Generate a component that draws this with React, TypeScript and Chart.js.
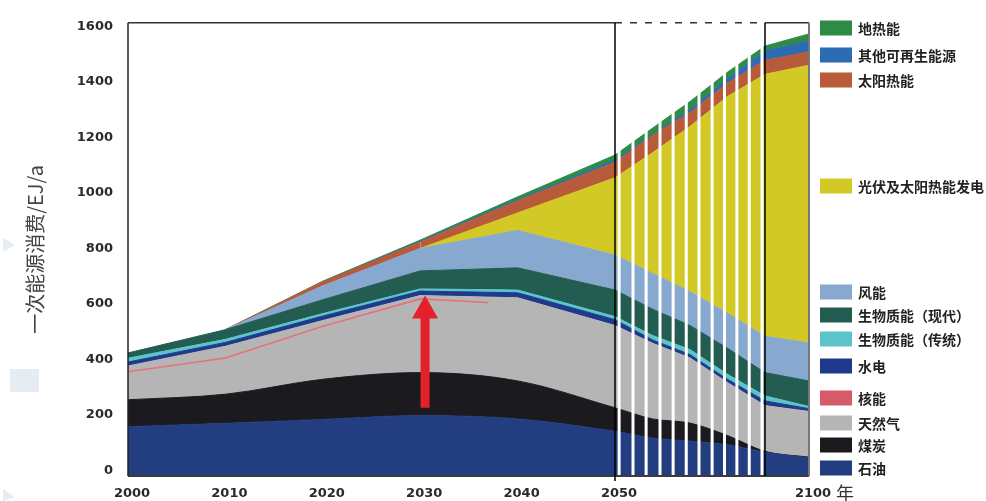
import React, { useEffect, useRef } from 'react';
import { Chart, registerables, LinearScale } from 'chart.js';

Chart.register(...registerables);

// ---------- data ----------
const years = [2000, 2010, 2020, 2030, 2040, 2050, 2060, 2070, 2080, 2090, 2100];
const oil = [157, 169, 183, 197, 185, 140, 116, 105, 92, 65, 45];
const coal = [97, 105, 145, 155, 137, 85, 69, 65, 33, 3, 2];
const gas = [122, 173, 212, 278, 300, 297, 273, 235, 191, 165, 165];
const hydro = [14, 14, 16, 16, 18, 21, 12, 12, 12, 17, 10];
const bioTraditional = [14, 11, 9, 8, 10, 11, 16, 18, 18, 18, 8];
const bioModern = [19, 35, 50, 65, 80, 96, 95, 87, 94, 84, 92];
const wind = [0, 0, 50, 81, 135, 126, 129, 122, 126, 131, 137];
const pvSolarPower = [0, 0, 0, 0, 63, 279, 435, 596, 782, 945, 1002];
const solarThermal = [0, 0, 15, 23, 44, 56, 62, 50, 49, 51, 48];
const otherRenewables = [0, 0, 0, 3, 4, 7, 3, 10, 15, 33, 39];
const geothermal = [0, 0, 2, 4, 10, 19, 24, 30, 24, 18, 26];

const nuclearYears = [2000, 2010, 2020, 2030, 2037];
const nuclearLine = [355, 405, 519, 618, 605];

const xTickYears = [2000, 2010, 2020, 2030, 2040, 2050, 2100];
const yTicks = [0, 200, 400, 600, 800, 1000, 1200, 1400, 1600];
const stripeYears = [2051.1, 2054.8, 2058.3, 2062, 2065.5, 2069, 2072.4, 2075.9, 2079.2, 2082.5, 2085.8, 2089.2];
const arrowYear = 2030.5;
const arrowFrom = 225;
const arrowTo = 630;

const legendOrder = ['地热能', '其他可再生能源', '太阳热能', '光伏及太阳热能发电', '风能', '生物质能（现代）', '生物质能（传统）', '水电', '核能', '天然气', '煤炭', '石油'];

// ---------- layout / style ----------
const legendY = [28, 55, 80, 186, 292, 315, 339, 366, 398, 423, 445, 468];
const xBreakYears = [2000, 2050, 2090, 2100];
const xBreakFracs = [0, 487 / 681, 637 / 681, 1];

function yearToFrac(v: number) {
  for (let i = 0; i < xBreakYears.length - 1; i++) {
    const a = xBreakYears[i], b = xBreakYears[i + 1];
    if (v <= b || i === xBreakYears.length - 2) {
      return xBreakFracs[i] + ((v - a) / (b - a)) * (xBreakFracs[i + 1] - xBreakFracs[i]);
    }
  }
  return 1;
}
function fracToYear(f: number) {
  for (let i = 0; i < xBreakFracs.length - 1; i++) {
    const a = xBreakFracs[i], b = xBreakFracs[i + 1];
    if (f <= b || i === xBreakFracs.length - 2) {
      return xBreakYears[i] + ((f - a) / (b - a)) * (xBreakYears[i + 1] - xBreakYears[i]);
    }
  }
  return 2100;
}

class PiecewiseScale extends LinearScale {
  getPixelForValue(value: any) {
    if (value === null || value === undefined || isNaN(value)) return NaN;
    return this.getPixelForDecimal(yearToFrac(+value));
  }
  getValueForPixel(pixel: number) {
    return fracToYear(this.getDecimalForPixel(pixel));
  }
}
(PiecewiseScale as any).id = 'piecewise';
(PiecewiseScale as any).defaults = (LinearScale as any).defaults;
Chart.register(PiecewiseScale as any);

const series = [
  { label: '石油', data: oil, color: '#223d80', smooth: true },
  { label: '煤炭', data: coal, color: '#1b1a1f', smooth: true },
  { label: '天然气', data: gas, color: '#b4b5b4', smooth: false },
  { label: '水电', data: hydro, color: '#1f3a8c', smooth: false },
  { label: '生物质能（传统）', data: bioTraditional, color: '#5cc4c9', smooth: false },
  { label: '生物质能（现代）', data: bioModern, color: '#235c51', smooth: false },
  { label: '风能', data: wind, color: '#87a9d0', smooth: false },
  { label: '光伏及太阳热能发电', data: pvSolarPower, color: '#d3c926', smooth: false },
  { label: '太阳热能', data: solarThermal, color: '#b85b3b', smooth: false },
  { label: '其他可再生能源', data: otherRenewables, color: '#2b6cb4', smooth: false },
  { label: '地热能', data: geothermal, color: '#2f8c46', smooth: false },
];
const nuclearColor = '#d65a6a';

const tickFont = { family: '"DejaVu Sans", Verdana, sans-serif', size: 13, weight: 'bold' as any };

const overlayPlugin = {
  id: 'overlay',
  beforeDraw(chart: any) {
    const ctx = chart.ctx;
    ctx.save();
    ctx.fillStyle = '#ffffff';
    ctx.fillRect(0, 0, chart.width, chart.height);
    ctx.fillStyle = '#e5ecf4';
    ctx.fillRect(10, 369, 29, 23);
    ctx.beginPath();
    ctx.moveTo(3, 238); ctx.lineTo(15, 245); ctx.lineTo(3, 252); ctx.closePath();
    ctx.fill();
    ctx.beginPath();
    ctx.moveTo(3, 489); ctx.lineTo(15, 497); ctx.lineTo(3, 501); ctx.closePath();
    ctx.fill();
    ctx.restore();
  },
  afterDatasetsDraw(chart: any) {
    const { ctx, chartArea: a, scales } = chart;
    const x = scales.x, y = scales.y;
    ctx.save();
    // white stripes
    ctx.strokeStyle = '#ffffff';
    ctx.lineWidth = 3;
    stripeYears.forEach((yr) => {
      const px = x.getPixelForValue(yr);
      ctx.beginPath(); ctx.moveTo(px, a.top); ctx.lineTo(px, a.bottom); ctx.stroke();
    });
    const x50 = x.getPixelForValue(2050);
    const x90 = x.getPixelForValue(2090);
    // frame
    ctx.strokeStyle = '#222';
    ctx.lineWidth = 1.5;
    ctx.beginPath(); ctx.moveTo(a.left, a.top); ctx.lineTo(a.left, a.bottom); ctx.stroke();
    ctx.strokeStyle = '#333';
    ctx.beginPath(); ctx.moveTo(a.left, a.top); ctx.lineTo(x50, a.top); ctx.stroke();
    ctx.beginPath(); ctx.moveTo(x90, a.top); ctx.lineTo(a.right, a.top); ctx.stroke();
    ctx.setLineDash([7, 8]);
    ctx.beginPath(); ctx.moveTo(x50, a.top); ctx.lineTo(x90, a.top); ctx.stroke();
    ctx.setLineDash([]);
    ctx.lineWidth = 2;
    ctx.strokeStyle = '#3a3a3a';
    ctx.beginPath(); ctx.moveTo(a.left, a.bottom); ctx.lineTo(a.right, a.bottom); ctx.stroke();
    ctx.strokeStyle = '#777';
    ctx.beginPath(); ctx.moveTo(a.right, a.top); ctx.lineTo(a.right, a.bottom); ctx.stroke();
    // vertical markers
    ctx.strokeStyle = '#000';
    ctx.lineWidth = 1.5;
    ctx.beginPath(); ctx.moveTo(x50, a.top); ctx.lineTo(x50, a.bottom + 5); ctx.stroke();
    ctx.beginPath(); ctx.moveTo(x90, a.top); ctx.lineTo(x90, a.bottom); ctx.stroke();
    // red arrow
    const ax = x.getPixelForValue(arrowYear);
    const yTip = y.getPixelForValue(arrowTo);
    const yBase = y.getPixelForValue(arrowFrom);
    const headLen = 23, headHalf = 13, shaftHalf = 4.5;
    ctx.fillStyle = '#e4202a';
    ctx.beginPath();
    ctx.moveTo(ax - shaftHalf, yBase);
    ctx.lineTo(ax - shaftHalf, yTip + headLen);
    ctx.lineTo(ax - headHalf, yTip + headLen);
    ctx.lineTo(ax, yTip);
    ctx.lineTo(ax + headHalf, yTip + headLen);
    ctx.lineTo(ax + shaftHalf, yTip + headLen);
    ctx.lineTo(ax + shaftHalf, yBase);
    ctx.closePath();
    ctx.fill();
    ctx.restore();
  },
  afterDraw(chart: any) {
    const { ctx, chartArea: a } = chart;
    ctx.save();
    // 年
    ctx.fillStyle = '#333';
    ctx.font = '18px "Noto Sans CJK SC", sans-serif';
    ctx.textAlign = 'left';
    ctx.textBaseline = 'middle';
    ctx.fillText('年', a.right + 27, 493);
    // legend
    const ds = chart.data.datasets;
    ctx.font = 'bold 14px "Noto Sans CJK SC", sans-serif';
    legendOrder.forEach((label, i) => {
      const d = ds.find((q: any) => q.label === label);
      if (!d) return;
      const cy = legendY[i];
      ctx.fillStyle = d.legendColor || d.backgroundColor;
      ctx.fillRect(820, cy - 7.5, 32, 15);
      ctx.fillStyle = '#222';
      ctx.fillText(label, 858, cy + 0.5);
    });
    ctx.restore();
  },
};

export default function App() {
  const ref = useRef<HTMLCanvasElement>(null);
  useEffect(() => {
    const datasets: any[] = series.map((s, i) => ({
      label: s.label,
      data: s.data,
      backgroundColor: s.color,
      borderColor: s.color,
      borderWidth: 1,
      fill: i === 0 ? 'start' : '-1',
      pointRadius: 0,
      tension: 0,
      cubicInterpolationMode: s.smooth ? 'monotone' : 'default',
      stack: 'energy',
      segment: {
        borderColor: (c: any) =>
          s.data[c.p0DataIndex] === 0 && s.data[c.p1DataIndex] === 0 ? 'rgba(0,0,0,0)' : s.color,
      },
    }));
    datasets.push({
      label: '核能',
      data: nuclearYears.map((yr, i) => ({ x: yr, y: nuclearLine[i] })),
      borderColor: '#e8707b',
      backgroundColor: nuclearColor,
      legendColor: nuclearColor,
      borderWidth: 1.6,
      fill: false,
      pointRadius: 0,
      stack: 'nuclear',
      order: -1,
    });
    const chart = new Chart(ref.current as HTMLCanvasElement, {
      type: 'line',
      data: { labels: years, datasets },
      options: {
        animation: false,
        responsive: false,
        layout: { padding: { top: 19, right: 177, left: 0, bottom: 0 } },
        plugins: { legend: { display: false }, tooltip: { enabled: false } },
        scales: {
          x: {
            type: 'piecewise' as any,
            min: 2000,
            max: 2100,
            grid: { display: false, drawTicks: false },
            border: { display: false },
            afterBuildTicks: (s: any) => { s.ticks = xTickYears.map((v) => ({ value: v })); },
            afterFit: (s: any) => { s.height = 25; },
            ticks: {
              padding: 10,
              labelOffset: 4,
              autoSkip: false,
              maxRotation: 0,
              font: tickFont,
              color: '#2a2a2a',
              callback: (v: any) => String(v),
            },
          },
          y: {
            type: 'linear',
            stacked: true,
            min: -21,
            max: 1614,
            grid: { display: false, drawTicks: false },
            border: { display: false },
            afterBuildTicks: (s: any) => { s.ticks = yTicks.map((v) => ({ value: v })); },
            afterFit: (s: any) => { s.width = 128; },
            ticks: {
              padding: 15,
              font: tickFont,
              color: '#2a2a2a',
              callback: (v: any) => String(v),
            },
            title: {
              display: true,
              text: '一次能源消费/EJ/a',
              color: '#444',
              font: { family: '"Noto Sans CJK SC", sans-serif', size: 20 },
              padding: { top: 23, bottom: 0 },
            },
          },
        },
      } as any,
      plugins: [overlayPlugin],
    });
    return () => chart.destroy();
  }, []);
  return (
    <div style={{ position: 'absolute', left: 0, top: 0, width: 986, height: 501, background: '#fff' }}>
      <canvas ref={ref} width={986} height={501} style={{ display: 'block', width: 986, height: 501 }} />
    </div>
  );
}
